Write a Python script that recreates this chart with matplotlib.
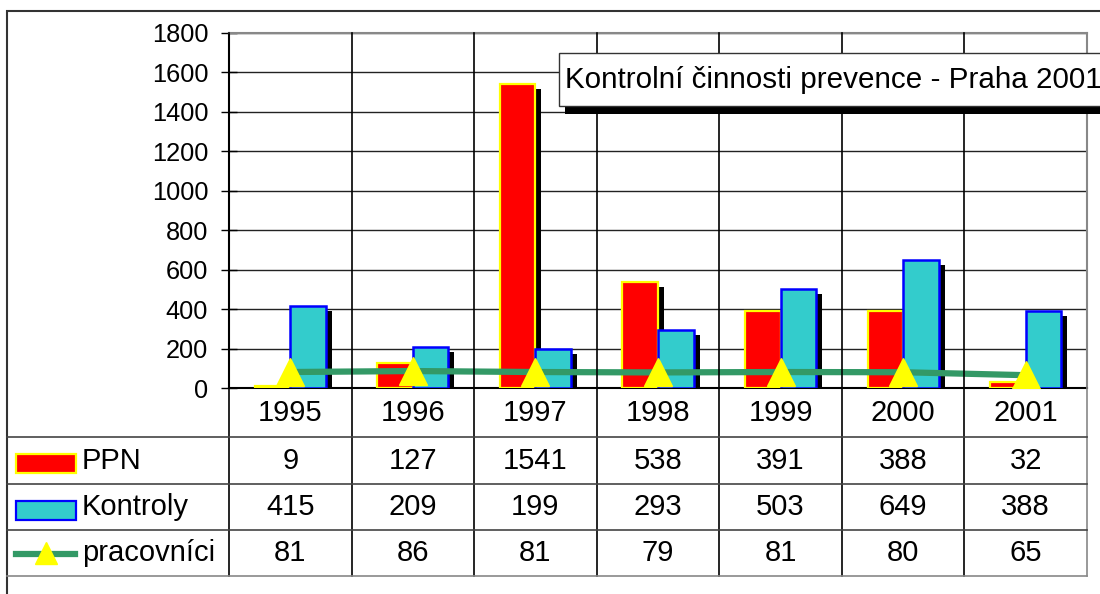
import matplotlib
matplotlib.use('Agg')
import matplotlib.pyplot as plt
from matplotlib import transforms
from matplotlib.patches import Rectangle
from matplotlib.lines import Line2D
import numpy as np

plt.rcParams['font.family'] = ['Liberation Sans', 'DejaVu Sans']

# data
years = ['1995', '1996', '1997', '1998', '1999', '2000', '2001']
ppn = [9, 127, 1541, 538, 391, 388, 32]
kontroly = [415, 209, 199, 293, 503, 649, 388]
pracovnici = [81, 86, 81, 79, 81, 80, 65]
series_names = ['PPN', 'Kontroly', 'pracovníci']
title = 'Kontrolní činnosti prevence - Praha 2001'

W, H = 1100, 594
fig = plt.figure(figsize=(W / 100, H / 100), dpi=100)


def fx(px):
    return px / W


def fy(py):
    return 1 - py / H


# plot area in pixels
L, R, T, B = 229, 1087, 33, 388
ax = fig.add_axes([fx(L), fy(B), fx(R) - fx(L), fy(T) - fy(B)])
x = np.arange(len(years)) + 0.5
bw = 0.29

# drop shadows behind the bars
shadow = ax.transData + transforms.ScaledTranslation(6 / 100, -5 / 100, fig.dpi_scale_trans)
ax.bar(x - bw / 2, ppn, bw, color='black', transform=shadow, zorder=2)
ax.bar(x + bw / 2, kontroly, bw, color='black', transform=shadow, zorder=2)

ax.bar(x - bw / 2, ppn, bw, color='#FF0000', edgecolor='#FFFF00', linewidth=1.6, zorder=3)
ax.bar(x + bw / 2, kontroly, bw, color='#33CCCC', edgecolor='#0000FF', linewidth=1.8, zorder=3)
ax.plot(x, pracovnici, color='#339966', linewidth=4.5, marker='^', markersize=20,
        markerfacecolor='#FFFF00', markeredgecolor='#FFFF00', zorder=4)

ax.set_xlim(0, len(years))
ax.set_ylim(0, 1800)
ax.set_yticks(range(0, 1801, 200))
ax.set_xticks([])
ax.yaxis.grid(True, color='#222222', linewidth=1)
ax.set_axisbelow(True)
ax.tick_params(axis='y', direction='inout', length=12, width=1, pad=9, labelsize=18.3)
for s in ['left', 'bottom']:
    ax.spines[s].set_color('black')
    ax.spines[s].set_linewidth(1.5)
for s in ['top', 'right']:
    ax.spines[s].set_color('#888888')
    ax.spines[s].set_linewidth(1.5)

# vertical lines through plot and table
blend = transforms.blended_transform_factory(ax.transData, fig.transFigure)
for i in range(len(years) + 1):
    c = '#888888' if i == len(years) else 'black'
    fig.add_artist(Line2D([i, i], [fy(T), fy(576)], transform=blend, color=c, lw=1.2))

# table rows
row_lines = [437, 484, 530, 576]
for k, yy in enumerate(row_lines):
    c = '#888888' if k == len(row_lines) - 1 else '#444444'
    fig.add_artist(Line2D([fx(7), fx(R)], [fy(yy), fy(yy)], color=c, lw=1.2))

fs = 21
for i, yr in enumerate(years):
    fig.text(x[i], fy(413), yr, transform=blend, ha='center', va='center', fontsize=fs)
row_centers = [461, 507, 553]
for vals, yc in zip([ppn, kontroly, pracovnici], row_centers):
    for i, v in enumerate(vals):
        fig.text(x[i], fy(yc), str(v), transform=blend, ha='center', va='center', fontsize=fs)
for name, yc in zip(series_names, row_centers):
    fig.text(fx(82), fy(yc), name, ha='left', va='center', fontsize=fs)

# legend keys in the table
fig.add_artist(Rectangle((fx(16), fy(473)), fx(60), 19 / H, facecolor='#FF0000',
                         edgecolor='#FFFF00', lw=1.6))
fig.add_artist(Rectangle((fx(16), fy(520)), fx(60), 19 / H, facecolor='#33CCCC',
                         edgecolor='#0000FF', lw=1.6))
fig.add_artist(Line2D([fx(16), fx(75)], [fy(554), fy(554)], color='#339966', lw=4.5))
fig.add_artist(Line2D([fx(46)], [fy(553)], marker='^', markersize=16, color='#FFFF00',
                      markeredgecolor='#FFFF00', linestyle='none'))

# outer frame
fig.add_artist(Rectangle((fx(7), fy(H + 20)), fx(W + 20), (H + 9) / H, fill=False,
                         edgecolor='#333333', lw=1.5))

# title box with shadow
fig.add_artist(Rectangle((fx(565), fy(114)), fx(600), 53 / H, facecolor='black',
                         edgecolor='none', zorder=10))
fig.add_artist(Rectangle((fx(559), fy(106)), fx(600), 53 / H, facecolor='white',
                         edgecolor='#333333', lw=1, zorder=11))
fig.text(fx(565), fy(80), title, ha='left', va='center', fontsize=21.3, zorder=12)

fig.savefig('out.png', dpi=100)
